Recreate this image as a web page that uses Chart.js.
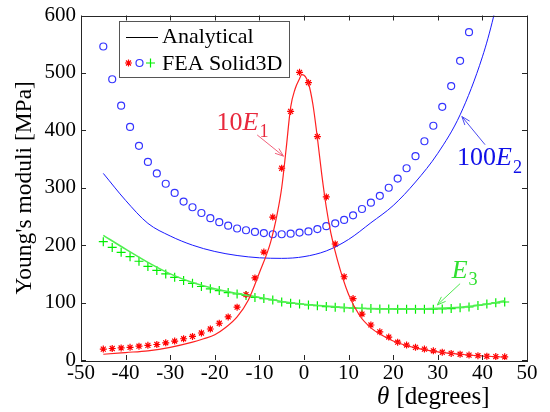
<!DOCTYPE html>
<html>
<head>
<meta charset="utf-8">
<script src="https://cdn.jsdelivr.net/npm/chart.js@4.4.0/dist/chart.umd.min.js"></script>
<style>
  html, body { margin: 0; padding: 0; background: #fff; }
  #chart { display: block; }
</style>
</head>
<body>
<canvas id="chart" width="550" height="412"></canvas>
<script>
const serif = '"Liberation Serif", "Times New Roman", serif'

// axis ticks
const xTicks = [-50, -40, -30, -20, -10, 0, 10, 20, 30, 40, 50]
const yTicks = [0, 100, 200, 300, 400, 500, 600]

// analytical curves
const e1LineTheta = [-45, -40, -35, -30, -25, -22.5, -20, -17.5, -15, -12.5, -10, -7.5, -6, -5, -4, -3, -2, -1, -0.5, 0, 1, 2, 3, 4, 5, 6, 7.5, 10, 12.5, 15, 17.5, 20, 25, 30, 35, 40, 45]
const e1Line = [10, 13, 16, 22, 31, 37, 44, 57, 75, 104, 152, 205, 255, 300, 368, 440, 472, 490, 497, 496, 482, 445, 387, 322, 266, 222, 174, 114, 77, 56, 43, 33, 21, 14, 10, 7, 5]

const e2LineTheta = [-45, -40, -35, -30, -25, -20, -15, -10, -5, 0, 5, 10, 15, 20, 25, 30, 35, 40, 42.5, 45]
const e2Line = [325, 278, 238, 216, 200, 189, 182, 178, 177, 180, 190, 210, 239, 269, 310, 360, 427, 528, 598, 690]

const e3LineTheta = [-45, -40, -35, -30, -25, -20, -15, -10, -5, 0, 5, 10, 15, 20, 25, 30, 35, 40, 45]
const e3Line = [217, 193, 170, 150, 135, 124, 116, 109, 102, 97, 94, 91, 89.5, 89, 89, 90, 92, 96, 103]

// FEA Solid3D samples
const feaTheta = [-45, -43, -41, -39, -37, -35, -33, -31, -29, -27, -25, -23, -21, -19, -17, -15, -13, -11, -9, -7, -5, -3, -1, 1, 3, 5, 7, 9, 11, 13, 15, 17, 19, 21, 23, 25, 27, 29, 31, 33, 35, 37, 39, 41, 43, 45]
const e1Fea = [19, 20, 21, 22, 24, 25.5, 27, 30, 33, 37, 41, 47, 54, 64, 75, 92, 114, 143, 188, 249, 334, 433, 501, 483, 389, 284, 202, 145, 107, 80, 61, 49, 40, 31, 26, 22, 19, 16, 13.5, 11.5, 10, 8.5, 7.5, 6.5, 6, 5.5]
const e2Fea = [546, 489, 443, 406, 373, 345, 325, 307, 291, 276, 266, 256, 247, 240, 234, 229, 226, 223, 221, 219, 219, 220, 222, 224, 228, 233, 238, 244, 252, 263, 274, 286, 300, 316, 334, 355, 381, 408, 441, 477, 521, 571, null, null, null, null]
const e3Fea = [206, 196, 187.5, 180, 172, 163, 156, 150, 144, 138.5, 133.5, 128, 124, 121, 117.5, 115, 112.5, 109, 107, 104.5, 101, 99, 97.5, 96, 94.5, 93, 92, 91, 90.5, 90, 89.5, 89, 89, 88.5, 88.5, 88.5, 88.5, 88.5, 89, 89.5, 91, 92.5, 95, 97.5, 99.5, 101]

function toPoints(xs, ys) {
	return xs.map((x, i) => ({ x, y: ys[i] }))
}

function lineSet(label, xs, ys, color, width) {
	return {
		label,
		data: toPoints(xs, ys),
		borderColor: color,
		borderWidth: width,
		pointRadius: 0,
		fill: false,
		cubicInterpolationMode: 'monotone'
	}
}

function markerSet(label, xs, ys, style, color, radius) {
	return {
		label,
		data: toPoints(xs, ys),
		showLine: false,
		pointStyle: style,
		pointRadius: radius,
		pointBorderWidth: 1.2,
		pointBorderColor: color,
		pointBackgroundColor: 'rgba(0,0,0,0)',
		borderColor: color
	}
}

// text labels with arrows, placed in data units
const notes = [
	{ parts: [{ t: '10' }, { t: 'E', italic: true }, { t: '1', sub: true }], color: '#e8283c', arrowColor: '#f0607a', at: [-19.6, 401], tail: [-10.5, 392], tip: [-4.6, 355] },
	{ parts: [{ t: '100' }, { t: 'E', italic: true }, { t: '2', sub: true }], color: '#1010e8', arrowColor: '#4a4af0', at: [34.3, 339], tail: [40.6, 375], tip: [35.4, 424] },
	{ parts: [{ t: 'E', italic: true }, { t: '3', sub: true }], color: '#30e030', arrowColor: '#50e850', at: [33.1, 143.5], tail: [35, 133], tip: [29.9, 96] }
]

function drawRich(ctx, parts, x, y, size, color) {
	ctx.save()
	ctx.fillStyle = color
	ctx.textAlign = 'left'
	ctx.textBaseline = 'alphabetic'
	for (const p of parts) {
		const s = p.sub ? size * 0.7 : size
		ctx.font = (p.italic ? 'italic ' : '') + s + 'px ' + serif
		ctx.fillText(p.t, x, y + (p.sub ? size * 0.28 : 0))
		x += ctx.measureText(p.t).width + (p.italic ? size * 0.04 : 0)
	}
	ctx.restore()
}

function drawArrow(ctx, x1, y1, x2, y2, color) {
	const a = Math.atan2(y2 - y1, x2 - x1)
	const h = 9
	const w = 0.35
	ctx.save()
	ctx.strokeStyle = color
	ctx.lineWidth = 1
	ctx.beginPath()
	ctx.moveTo(x1, y1)
	ctx.lineTo(x2, y2)
	ctx.moveTo(x2 - h * Math.cos(a - w), y2 - h * Math.sin(a - w))
	ctx.lineTo(x2, y2)
	ctx.lineTo(x2 - h * Math.cos(a + w), y2 - h * Math.sin(a + w))
	ctx.stroke()
	ctx.restore()
}

function marker(ctx, style, color, radius, x, y) {
	ctx.save()
	ctx.strokeStyle = color
	ctx.fillStyle = 'rgba(0,0,0,0)'
	ctx.lineWidth = 1.2
	Chart.helpers.drawPoint(ctx, { pointStyle: style, radius, rotation: 0, borderWidth: 1.2 }, x, y)
	ctx.restore()
}

const decorations = {
	id: 'decorations',
	afterDatasetsDraw(chart) {
		const { ctx, chartArea: area, scales } = chart
		const xs = scales.x
		const ys = scales.y

		// box with inward ticks
		ctx.save()
		ctx.strokeStyle = '#262626'
		ctx.lineWidth = 1
		ctx.strokeRect(Math.round(area.left) + 0.5, Math.round(area.top) + 0.5, Math.round(area.right - area.left), Math.round(area.bottom - area.top))
		ctx.beginPath()
		xTicks.forEach((t) => {
			const px = Math.round(xs.getPixelForValue(t)) + 0.5
			ctx.moveTo(px, area.bottom); ctx.lineTo(px, area.bottom - 5)
			ctx.moveTo(px, area.top); ctx.lineTo(px, area.top + 5)
		})
		yTicks.forEach((t) => {
			const py = Math.round(ys.getPixelForValue(t)) + 0.5
			ctx.moveTo(area.left, py); ctx.lineTo(area.left + 5, py)
			ctx.moveTo(area.right, py); ctx.lineTo(area.right - 5, py)
		})
		ctx.stroke()
		ctx.restore()

		// annotations
		notes.forEach((n) => {
			drawArrow(ctx, xs.getPixelForValue(n.tail[0]), ys.getPixelForValue(n.tail[1]),
				xs.getPixelForValue(n.tip[0]), ys.getPixelForValue(n.tip[1]), n.arrowColor)
			drawRich(ctx, n.parts, xs.getPixelForValue(n.at[0]), ys.getPixelForValue(n.at[1]), 26, n.color)
		})

		// legend
		const lx = 119.5
		const ly = 21.5
		ctx.save()
		ctx.fillStyle = '#fff'
		ctx.fillRect(lx, ly, 170, 56)
		ctx.strokeStyle = '#555'
		ctx.lineWidth = 1
		ctx.strokeRect(lx, ly, 170, 56)
		ctx.strokeStyle = '#000'
		ctx.beginPath()
		ctx.moveTo(126, 37.5)
		ctx.lineTo(158, 37.5)
		ctx.stroke()
		ctx.fillStyle = '#000'
		ctx.font = '22px ' + serif
		ctx.textBaseline = 'alphabetic'
		ctx.fillText('Analytical', 162, 43)
		ctx.fillText('FEA Solid3D', 162, 70)
		ctx.restore()
		marker(ctx, 'star', '#ff0000', 3.5, 128.5, 63)
		marker(ctx, 'circle', '#3535ff', 3.5, 139.5, 63)
		marker(ctx, 'cross', '#00ee00', 4.5, 150.5, 63)

		// axis titles
		ctx.save()
		ctx.fillStyle = '#000'
		ctx.translate(25, (area.top + area.bottom) / 2)
		ctx.rotate(-Math.PI / 2)
		ctx.font = '23.5px ' + serif
		ctx.textAlign = 'center'
		ctx.textBaseline = 'middle'
		ctx.fillText("Young's moduli [MPa]", 0, 0)
		ctx.restore()
		drawRich(ctx, [{ t: 'θ', italic: true }, { t: ' [degrees]' }], 377, 404, 25, '#000')
	}
}

const tickFont = { family: serif, size: 21, lineHeight: 1 }

new Chart(document.getElementById('chart'), {
	type: 'line',
	data: {
		datasets: [
			lineSet('10E1 analytical', e1LineTheta, e1Line, '#ff2020', 1.2),
			lineSet('100E2 analytical', e2LineTheta, e2Line, '#1a1aff', 1),
			lineSet('E3 analytical', e3LineTheta, e3Line, '#50f050', 1.6),
			markerSet('10E1 FEA', feaTheta, e1Fea, 'star', '#ff0000', 3.5),
			markerSet('100E2 FEA', feaTheta, e2Fea, 'circle', '#3535ff', 3.5),
			markerSet('E3 FEA', feaTheta, e3Fea, 'cross', '#00ee00', 4.5)
		]
	},
	options: {
		responsive: false,
		animation: false,
		devicePixelRatio: 1,
		layout: { padding: { left: 0, top: 10, right: 23, bottom: 0 } },
		plugins: { legend: { display: false }, tooltip: { enabled: false } },
		scales: {
			x: {
				type: 'linear',
				min: -50,
				max: 50,
				afterBuildTicks: (scale) => { scale.ticks = xTicks.map((v) => ({ value: v })) },
				afterFit: (scale) => { scale.height = 52 },
				grid: { display: false, drawTicks: false },
				border: { display: false },
				ticks: { font: tickFont, color: '#000', padding: 3, maxRotation: 0, autoSkip: false }
			},
			y: {
				type: 'linear',
				min: 0,
				max: 600,
				afterBuildTicks: (scale) => { scale.ticks = yTicks.map((v) => ({ value: v })) },
				afterFit: (scale) => { scale.width = 81 },
				grid: { display: false, drawTicks: false },
				border: { display: false },
				ticks: { font: tickFont, color: '#000', padding: 5 }
			}
		}
	},
	plugins: [decorations]
})
</script>
</body>
</html>
